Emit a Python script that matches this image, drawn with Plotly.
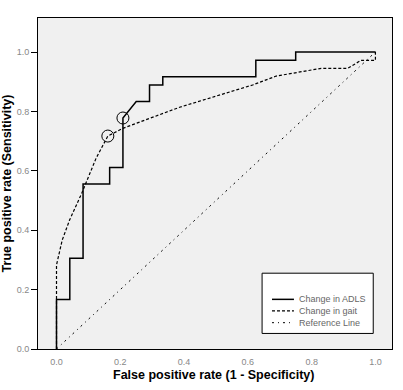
import plotly.graph_objects as go

# ROC curve 1: Change in ADLS (step curve)
adls_fpr = [0.0, 0.0, 0.0417, 0.0417, 0.0833, 0.0833, 0.1667, 0.1667, 0.2083, 0.2083,
            0.25, 0.2917, 0.2917, 0.3333, 0.3333, 0.625, 0.625, 0.75, 0.75, 1.0]
adls_tpr = [0.0, 0.1667, 0.1667, 0.3056, 0.3056, 0.5556, 0.5556, 0.6111, 0.6111, 0.7778,
            0.8333, 0.8333, 0.8889, 0.8889, 0.9167, 0.9167, 0.9722, 0.9722, 1.0, 1.0]

# ROC curve 2
other_fpr = [0.0, 0.0, 0.018, 0.041, 0.079, 0.124, 0.161, 0.208, 0.386, 0.615, 0.689,
             0.830, 0.913, 0.955, 1.0, 1.0]
other_tpr = [0.0, 0.283, 0.367, 0.434, 0.524, 0.642, 0.717, 0.743, 0.814, 0.889, 0.919,
             0.945, 0.945, 0.972, 0.972, 1.0]

# Reference line
ref_x = [0.0, 1.0]
ref_y = [0.0, 1.0]

# Optimal cut-off points (circled)
cut_x = [0.161, 0.2083]
cut_y = [0.717, 0.7778]

series_names = ["Change in ADLS", "Change in gait", "Reference Line"]
series_dash = ["solid", "3px,2px", "2px,4px,1px,4px"]
tick_vals = [0.0, 0.2, 0.4, 0.6, 0.8, 1.0]
x_title = "False positive rate (1 - Specificity)"
y_title = "True positive rate (Sensitivity)"

fig = go.Figure()
fig.add_trace(go.Scatter(x=ref_x, y=ref_y, mode="lines", name=series_names[2],
                         line=dict(color="black", width=1, dash=series_dash[2])))
fig.add_trace(go.Scatter(x=other_fpr, y=other_tpr, mode="lines", name=series_names[1],
                         line=dict(color="black", width=1.2, dash=series_dash[1])))
fig.add_trace(go.Scatter(x=adls_fpr, y=adls_tpr, mode="lines", name=series_names[0],
                         line=dict(color="black", width=1.5, dash=series_dash[0])))
fig.add_trace(go.Scatter(x=cut_x, y=cut_y, mode="markers", showlegend=False,
                         marker=dict(symbol="circle-open", size=12,
                                     line=dict(color="black", width=1), color="black")))

# Manual legend (box + samples + labels)
fig.add_shape(type="rect", xref="paper", yref="paper", x0=0.633, x1=0.947, y0=0.047, y1=0.229,
              line=dict(color="black", width=1), fillcolor="white", layer="above")
rows = [0.150, 0.115, 0.0795]
widths = [1.5, 1.2, 1]
for name, dash, yy, w in zip(series_names, series_dash, rows, widths):
    fig.add_shape(type="line", xref="paper", yref="paper", x0=0.661, x1=0.723, y0=yy, y1=yy,
                  line=dict(color="black", width=w, dash=dash), layer="above")
    fig.add_annotation(xref="paper", yref="paper", x=0.731, y=yy, text=name, showarrow=False,
                       xanchor="left", yanchor="middle",
                       font=dict(family="Liberation Sans, Arial", size=9, color="#666666"))

# X-axis title as annotation for exact placement
fig.add_annotation(xref="paper", yref="paper", x=0.495, y=0, yshift=-26,
                   text="<b>" + x_title + "</b>", showarrow=False,
                   xanchor="center", yanchor="middle",
                   font=dict(family="Liberation Sans, Arial", size=12.5, color="black"))

fig.update_layout(
    width=403, height=390,
    margin=dict(l=38, r=11, t=18, b=41, autoexpand=False),
    paper_bgcolor="white", plot_bgcolor="#f0f0f0",
    showlegend=False,
    font=dict(family="Liberation Sans, Arial", color="black"),
)
fig.update_xaxes(range=[-0.058, 1.052], tickvals=tick_vals, tickformat=".1f",
                 automargin=False,
                 showgrid=False, zeroline=False, showline=True, linecolor="black",
                 linewidth=1, mirror=True, ticks="outside", ticklen=4,
                 tickcolor="rgba(0,0,0,0)",
                 tickfont=dict(size=9, color="#888888"))
fig.update_yaxes(range=[0, 1.1145], tickvals=tick_vals, tickformat=".1f",
                 automargin=False,
                 showgrid=False, zeroline=False, showline=True, linecolor="black",
                 linewidth=1, mirror=True, ticks="outside", ticklen=6, tickcolor="black",
                 tickfont=dict(size=9, color="#888888"),
                 title=dict(text="<b>" + y_title + "</b>",
                            font=dict(size=12.5, color="black")))

# Remove the browser's default 8px body margin so the figure fills the window.
fig.write_html("out.html", config={"displayModeBar": False},
               post_script="document.body.style.margin='0';")
